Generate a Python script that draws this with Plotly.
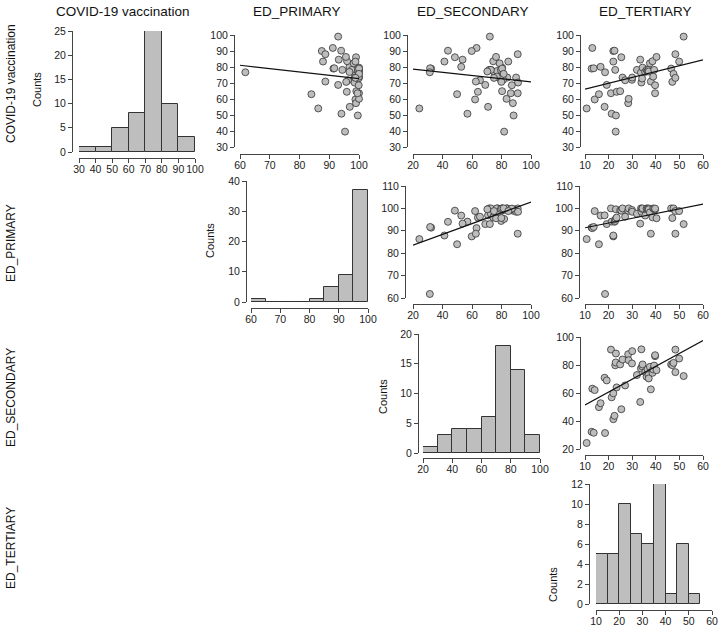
import numpy as np
import plotly.graph_objects as go

W, H = 719, 628
FONT = "Liberation Sans, Arial, sans-serif"

variables = ["COVID-19 vaccination", "ED_PRIMARY", "ED_SECONDARY", "ED_TERTIARY"]

# one row per country (N = 53)
ed_tertiary = [10.7, 12.8, 13.1, 13.7, 14.1, 15.9, 16.6, 18.3, 18.5, 19.2,
               21.0, 21.3, 22.0, 22.0, 22.5, 22.8, 23.0, 23.1, 23.4, 24.9,
               25.4, 25.9, 27.0, 28.3, 28.5, 29.9, 30.0, 32.0, 33.4, 33.7,
               33.9, 34.2, 34.4, 35.5, 36.1, 36.5, 36.9, 37.0, 37.5, 37.9,
               38.6, 38.9, 39.3, 39.7, 39.7, 40.3, 46.5, 47.0, 47.5, 48.3,
               48.3, 49.9, 51.8]
covid_vacc = [54.1, 79.0, 91.9, 79.2, 59.7, 63.0, 80.1, 55.1, 76.7, 68.8,
              63.6, 50.8, 90.0, 83.4, 90.2, 78.2, 39.6, 49.7, 64.5, 64.9,
              86.1, 73.4, 71.7, 57.4, 60.1, 72.0, 73.4, 78.2, 84.6, 76.5,
              70.3, 72.8, 79.6, 76.9, 78.2, 77.5, 78.2, 77.2, 82.3, 70.9,
              83.6, 74.0, 78.2, 63.6, 68.6, 86.3, 79.0, 70.7, 75.7, 88.0,
              73.2, 83.4, 99.0]
ed_primary = [86.3, 91.4, 91.2, 91.7, 98.8, 84.0, 96.8, 96.9, 61.8, 93.0,
              100.0, 94.1, 87.5, 87.9, 94.0, 94.4, 95.3, 99.6, 95.9, 99.1,
              99.0, 100.0, 96.3, 99.0, 100.0, 99.3, 98.5, 97.6, 93.2, 100.0,
              98.5, 99.8, 100.0, 96.8, 100.0, 99.8, 100.0, 99.6, 98.2, 88.7,
              96.0, 100.0, 99.7, 99.5, 99.9, 95.6, 100.0, 95.7, 100.0, 88.7,
              98.8, 98.8, 93.0]
ed_secondary = [24.3, 32.3, 63.1, 31.6, 62.1, 49.9, 52.7, 70.9, 31.4, 69.0,
                91.0, 56.9, 59.8, 41.3, 43.7, 79.8, 81.8, 88.2, 64.0, 80.4,
                48.4, 83.9, 65.4, 87.7, 83.4, 81.1, 89.9, 72.8, 53.6, 77.5,
                91.2, 79.0, 80.4, 75.0, 71.6, 77.0, 72.8, 70.4, 78.7, 62.6,
                74.4, 76.8, 79.6, 86.3, 87.0, 76.3, 80.4, 79.9, 81.5, 91.0,
                74.9, 84.6, 72.1]

data = {
    "COVID-19 vaccination": np.array(covid_vacc),
    "ED_PRIMARY": np.array(ed_primary),
    "ED_SECONDARY": np.array(ed_secondary),
    "ED_TERTIARY": np.array(ed_tertiary),
}

# histogram breaks per variable
breaks = {
    "COVID-19 vaccination": np.arange(30, 101, 10),
    "ED_PRIMARY": np.arange(60, 101, 5),
    "ED_SECONDARY": np.arange(20, 101, 10),
    "ED_TERTIARY": np.arange(10, 56, 5),
}

def px(x):
    return x / W

def py(y):
    return 1 - y / H

def hist_counts(v, br):
    # right-closed bins, lowest included (R hist default)
    c = []
    for i in range(len(br) - 1):
        lo, hi = br[i], br[i + 1]
        if i == 0:
            c.append(int(np.sum((v >= lo) & (v <= hi))))
        else:
            c.append(int(np.sum((v > lo) & (v <= hi))))
    return np.array(c)

# panel layout (pixel geometry)
panels = [
    # kind, xvar, yvar, xrange, xdtick, yrange, ydtick, xdom, ydom(top,bottom), xline_y, yline_x
    ("hist", "COVID-19 vaccination", None, (30, 100), 10, (0, 25), 5, (79, 195), (31, 152), 158, 72),
    ("sc", "ED_PRIMARY", "COVID-19 vaccination", (60, 100), 10, (30, 100), 10, (240, 359), (35, 147), 154, 234),
    ("sc", "ED_SECONDARY", "COVID-19 vaccination", (20, 100), 20, (30, 100), 10, (413, 531), (35, 147), 154, 407),
    ("sc", "ED_TERTIARY", "COVID-19 vaccination", (10, 60), 10, (30, 100), 10, (585, 703), (35, 147), 154, 580),
    ("hist", "ED_PRIMARY", None, (60, 100), 10, (0, 40), 10, (251, 368), (181, 302), 308, 246),
    ("sc", "ED_SECONDARY", "ED_PRIMARY", (20, 100), 20, (60, 110), 10, (413, 531), (186, 298), 304, 405),
    ("sc", "ED_TERTIARY", "ED_PRIMARY", (10, 60), 10, (60, 110), 10, (585, 703), (186, 298), 304, 579),
    ("hist", "ED_SECONDARY", None, (20, 100), 20, (0, 20), 5, (423, 540), (334, 453), 458, 418),
    ("sc", "ED_TERTIARY", "ED_SECONDARY", (10, 60), 10, (20, 100), 20, (585, 703), (337, 449), 455, 580),
    ("hist", "ED_TERTIARY", None, (10, 60), 10, (0, 12), 2, (596, 712), (484, 604), 610, 589),
]

fig = go.Figure()
layout = {}
axis_common = dict(
    anchor="free", showline=True, linecolor="#444", linewidth=1,
    ticks="outside", ticklen=4, tickwidth=1, tickcolor="#444",
    showgrid=False, zeroline=False, tickangle=0, fixedrange=True,
    ticklabeloverflow="allow",
    tickfont=dict(family=FONT, size=10.5, color="#222"), tickmode="linear",
)

for i, (kind, xv, yv, xr, xd, yr, yd, xdom, ydom, xline, yline) in enumerate(panels, start=1):
    xa = "x" if i == 1 else f"x{i}"
    ya = "y" if i == 1 else f"y{i}"
    xkey = "xaxis" if i == 1 else f"xaxis{i}"
    ykey = "yaxis" if i == 1 else f"yaxis{i}"
    layout[xkey] = dict(axis_common, domain=[px(xdom[0]), px(xdom[1])], range=list(xr),
                        tick0=xr[0], dtick=xd, position=py(xline), ticklabelstandoff=-3)
    layout[ykey] = dict(axis_common, domain=[py(ydom[1]), py(ydom[0])], range=list(yr),
                        tick0=yr[0], dtick=yd, position=px(yline))
    if kind == "hist":
        br = breaks[xv]
        counts = hist_counts(data[xv], br)
        centers = (br[:-1] + br[1:]) / 2
        fig.add_trace(go.Bar(
            x=centers, y=counts, width=np.diff(br), xaxis=xa, yaxis=ya,
            marker=dict(color="#bebebe", line=dict(color="#333", width=1)),
            showlegend=False, hoverinfo="skip"))
    else:
        xvals, yvals = data[xv], data[yv]
        slope, intercept = np.polyfit(xvals, yvals, 1)
        lx = np.array(xr, dtype=float)
        fig.add_trace(go.Scatter(
            x=xvals, y=yvals, mode="markers", xaxis=xa, yaxis=ya, cliponaxis=False,
            marker=dict(size=7, color="#bdbdbd", line=dict(color="#333", width=0.8)),
            showlegend=False, hoverinfo="skip"))
        fig.add_trace(go.Scatter(
            x=lx, y=intercept + slope * lx, mode="lines", xaxis=xa, yaxis=ya, cliponaxis=False,
            line=dict(color="#111", width=1.2), showlegend=False, hoverinfo="skip"))

annotations = []
# column titles
for name, cx in zip(variables, [123, 297, 473, 645]):
    annotations.append(dict(text=name, x=px(cx), y=py(12), xref="paper", yref="paper",
                            showarrow=False, font=dict(family=FONT, size=13.5, color="#111"),
                            xanchor="center", yanchor="middle"))
# row labels
for name, cy in zip(variables, [84, 243, 398, 548]):
    annotations.append(dict(text=name, x=px(11), y=py(cy), xref="paper", yref="paper",
                            showarrow=False, textangle=-90,
                            font=dict(family=FONT, size=12, color="#111"),
                            xanchor="center", yanchor="middle"))
# "Counts" labels
for cx, cy in [(37, 90), (210, 241), (383, 397), (553, 585)]:
    annotations.append(dict(text="Counts", x=px(cx), y=py(cy), xref="paper", yref="paper",
                            showarrow=False, textangle=-90,
                            font=dict(family=FONT, size=11, color="#111"),
                            xanchor="center", yanchor="middle"))

fig.update_layout(
    width=W, height=H, margin=dict(l=0, r=0, t=0, b=0),
    paper_bgcolor="white", plot_bgcolor="white", template="none",
    annotations=annotations, showlegend=False, bargap=0,
    **layout,
)

# remove the browser's default 8px body margin so the figure sits at the page origin
fig.write_html("out.html", config={"displayModeBar": False},
               post_script="document.body.style.margin='0';")
